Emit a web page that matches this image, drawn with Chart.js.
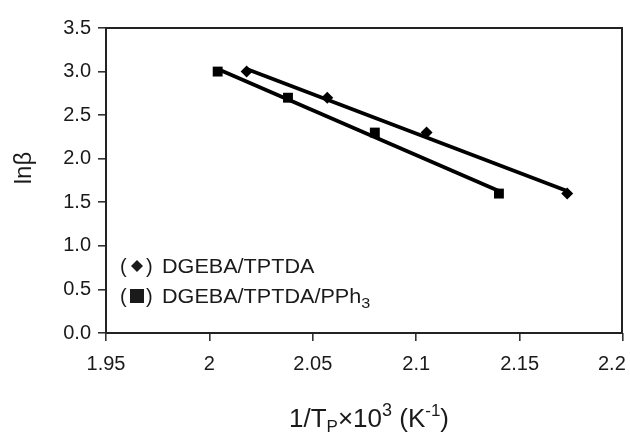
<!DOCTYPE html>
<html>
<head>
<meta charset="utf-8">
<script src="https://cdn.jsdelivr.net/npm/chart.js@4.4.1/dist/chart.umd.min.js"></script>
<style>
  html, body { margin: 0; padding: 0; background: #fff; }
  #wrap { width: 630px; height: 432px; }
</style>
</head>
<body>
<div id="wrap"><canvas id="myChart" width="630" height="432"></canvas></div>
<script>
// data
const xTicks = [1.95, 2, 2.05, 2.1, 2.15, 2.2];
const yTicks = [0, 0.5, 1, 1.5, 2, 2.5, 3, 3.5];

const tptdaX = [2.018, 2.057, 2.105, 2.173];
const tptdaY = [3.0, 2.7, 2.3, 1.6];
const pph3X = [2.004, 2.038, 2.080, 2.140];
const pph3Y = [3.0, 2.7, 2.3, 1.6];

// fitted lines (end points)
const tptdaFitX = [2.018, 2.173];
const tptdaFitY = [3.03, 1.63];
const pph3FitX = [2.004, 2.140];
const pph3FitY = [3.03, 1.63];

const legendLabels = ['DGEBA/TPTDA', 'DGEBA/TPTDA/PPh'];

const toPts = (xs, ys) => xs.map((x, i) => ({ x: x, y: ys[i] }));

const FONT = "'Liberation Sans', Arial, sans-serif";
const INK = '#1a1a1a';

// titles, frame and legend drawn on top
const extras = {
    id: 'extras',
    afterDraw(chart) {
        const ctx = chart.ctx;
        const a = chart.chartArea;
        ctx.save();

        // frame (all four sides)
        ctx.strokeStyle = '#222';
        ctx.lineWidth = 2;
        ctx.beginPath();
        ctx.moveTo(a.left, a.bottom);
        ctx.lineTo(a.left, a.top);
        ctx.lineTo(a.right - 1, a.top);
        ctx.lineTo(a.right - 1, a.bottom);
        ctx.lineTo(a.left, a.bottom);
        ctx.stroke();

        ctx.fillStyle = INK;
        ctx.textBaseline = 'alphabetic';

        // y title
        ctx.save();
        ctx.translate(31, 168);
        ctx.rotate(-Math.PI / 2);
        ctx.font = '24px ' + FONT;
        ctx.textAlign = 'center';
        ctx.fillText('lnβ', 0, 0);
        ctx.restore();

        // x title with sub/superscripts
        const parts = [
            { t: '1/T', s: 26, dy: 0 },
            { t: 'P', s: 17, dy: 5 },
            { t: '×10', s: 26, dy: 0 },
            { t: '3', s: 18, dy: -11 },
            { t: ' (K', s: 26, dy: 0 },
            { t: '-1', s: 17, dy: -11 },
            { t: ')', s: 26, dy: 0 }
        ];
        let total = 0;
        parts.forEach(p => { ctx.font = p.s + 'px ' + FONT; p.w = ctx.measureText(p.t).width; total += p.w; });
        let x = 369 - total / 2;
        ctx.textAlign = 'left';
        parts.forEach(p => {
            ctx.font = p.s + 'px ' + FONT;
            ctx.fillText(p.t, x, 427 + p.dy);
            x += p.w;
        });

        // legend
        const rows = [273, 303];
        rows.forEach((base, i) => {
            ctx.font = '20px ' + FONT;
            ctx.fillText('(', 120, base);
            ctx.fillText(')', 146, base);
            const cx = 137, cy = base - 7;
            ctx.beginPath();
            if (i === 0) {
                ctx.moveTo(cx, cy - 6); ctx.lineTo(cx + 6, cy);
                ctx.lineTo(cx, cy + 6); ctx.lineTo(cx - 6, cy);
                ctx.closePath(); ctx.fill();
            } else {
                ctx.fillRect(cx - 7, cy - 7, 14, 14);
            }
            ctx.save();
            ctx.translate(162, base);
            ctx.scale(1.08, 1);
            ctx.fillText(legendLabels[i], 0, 0);
            if (i === 1) {
                const w = ctx.measureText(legendLabels[i]).width;
                ctx.font = '15px ' + FONT;
                ctx.fillText('3', w, 5);
            }
            ctx.restore();
        });

        ctx.restore();
    }
};

new Chart(document.getElementById('myChart'), {
    type: 'scatter',
    data: {
        datasets: [
            {
                type: 'line',
                data: toPts(tptdaFitX, tptdaFitY),
                borderColor: '#000',
                borderWidth: 3.8,
                pointRadius: 0,
                fill: false
            },
            {
                type: 'line',
                data: toPts(pph3FitX, pph3FitY),
                borderColor: '#000',
                borderWidth: 3.8,
                pointRadius: 0,
                fill: false
            },
            {
                data: toPts(tptdaX, tptdaY),
                pointStyle: 'rectRot',
                pointRadius: 6,
                backgroundColor: '#000',
                borderColor: '#000',
                borderWidth: 0
            },
            {
                data: toPts(pph3X, pph3Y),
                pointStyle: 'rect',
                pointRadius: 7,
                backgroundColor: '#000',
                borderColor: '#000',
                borderWidth: 0
            }
        ]
    },
    options: {
        responsive: false,
        animation: false,
        layout: { padding: { top: 28, right: 7, left: 0, bottom: 0 } },
        plugins: {
            legend: { display: false },
            tooltip: { enabled: false }
        },
        scales: {
            x: {
                type: 'linear',
                min: 1.95,
                max: 2.2,
                afterBuildTicks: s => { s.ticks = xTicks.map(v => ({ value: v })); },
                afterFit: s => { s.height = 99; s.paddingLeft = 0; s.paddingRight = 0; },
                border: { display: false },
                grid: { drawOnChartArea: false, drawTicks: true, tickLength: 8, color: '#333', lineWidth: 1.6 },
                ticks: {
                    padding: 11,
                    color: INK,
                    font: { family: FONT, size: 20 },
                    maxRotation: 0,
                    // last label sits inside the canvas, as in the figure
                    callback: v => {
                        const s = String(Number(v.toFixed(2)));
                        return v === xTicks[xTicks.length - 1] ? s + '    ' : s;
                    }
                }
            },
            y: {
                type: 'linear',
                min: 0,
                max: 3.5,
                afterBuildTicks: s => { s.ticks = yTicks.map(v => ({ value: v })); },
                afterFit: s => { s.width = 106; s.paddingTop = 0; s.paddingBottom = 0; },
                border: { display: false },
                grid: { drawOnChartArea: false, drawTicks: true, tickLength: 8, color: '#333', lineWidth: 1.6 },
                ticks: {
                    padding: 7,
                    color: INK,
                    font: { family: FONT, size: 20 },
                    callback: v => v.toFixed(1)
                }
            }
        }
    },
    plugins: [extras]
});
</script>
</body>
</html>
